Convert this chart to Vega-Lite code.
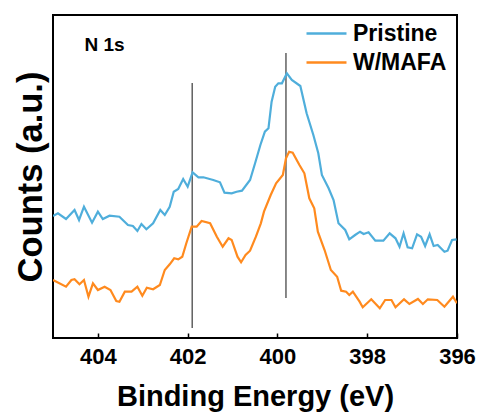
{
  "$schema": "https://vega.github.io/schema/vega-lite/v6.json",
  "width": 404,
  "height": 323,
  "autosize": {"type": "none"},
  "padding": {"left": 53, "top": 15, "right": 22, "bottom": 77},
  "background": "white",
  "config": {
    "font": "Liberation Sans",
    "view": {"stroke": "black", "strokeWidth": 2}
  },
  "datasets": {
    "spectra": [
      {"energy": 405.00, "counts": 122, "sample": "Pristine"},
      {"energy": 404.89, "counts": 124.7, "sample": "Pristine"},
      {"energy": 404.71, "counts": 119, "sample": "Pristine"},
      {"energy": 404.52, "counts": 128, "sample": "Pristine"},
      {"energy": 404.42, "counts": 118, "sample": "Pristine"},
      {"energy": 404.31, "counts": 131.3, "sample": "Pristine"},
      {"energy": 404.13, "counts": 115.3, "sample": "Pristine"},
      {"energy": 404.00, "counts": 126.3, "sample": "Pristine"},
      {"energy": 403.89, "counts": 119, "sample": "Pristine"},
      {"energy": 403.74, "counts": 122.3, "sample": "Pristine"},
      {"energy": 403.52, "counts": 121.3, "sample": "Pristine"},
      {"energy": 403.33, "counts": 113, "sample": "Pristine"},
      {"energy": 403.22, "counts": 112, "sample": "Pristine"},
      {"energy": 403.12, "counts": 107, "sample": "Pristine"},
      {"energy": 403.03, "counts": 114, "sample": "Pristine"},
      {"energy": 402.92, "counts": 108.7, "sample": "Pristine"},
      {"energy": 402.77, "counts": 114.7, "sample": "Pristine"},
      {"energy": 402.61, "counts": 128, "sample": "Pristine"},
      {"energy": 402.51, "counts": 123, "sample": "Pristine"},
      {"energy": 402.40, "counts": 131.3, "sample": "Pristine"},
      {"energy": 402.31, "counts": 146.3, "sample": "Pristine"},
      {"energy": 402.21, "counts": 149, "sample": "Pristine"},
      {"energy": 402.10, "counts": 159, "sample": "Pristine"},
      {"energy": 402.00, "counts": 151.3, "sample": "Pristine"},
      {"energy": 401.89, "counts": 165.7, "sample": "Pristine"},
      {"energy": 401.76, "counts": 160.7, "sample": "Pristine"},
      {"energy": 401.65, "counts": 160.7, "sample": "Pristine"},
      {"energy": 401.43, "counts": 158, "sample": "Pristine"},
      {"energy": 401.28, "counts": 155.7, "sample": "Pristine"},
      {"energy": 401.18, "counts": 145.3, "sample": "Pristine"},
      {"energy": 401.02, "counts": 144.7, "sample": "Pristine"},
      {"energy": 400.91, "counts": 146.3, "sample": "Pristine"},
      {"energy": 400.79, "counts": 147.3, "sample": "Pristine"},
      {"energy": 400.61, "counts": 158, "sample": "Pristine"},
      {"energy": 400.49, "counts": 176, "sample": "Pristine"},
      {"energy": 400.38, "counts": 193, "sample": "Pristine"},
      {"energy": 400.28, "counts": 206.3, "sample": "Pristine"},
      {"energy": 400.20, "counts": 209.7, "sample": "Pristine"},
      {"energy": 400.13, "counts": 236.3, "sample": "Pristine"},
      {"energy": 400.05, "counts": 251.3, "sample": "Pristine"},
      {"energy": 399.98, "counts": 254.7, "sample": "Pristine"},
      {"energy": 399.90, "counts": 254.7, "sample": "Pristine"},
      {"energy": 399.79, "counts": 264.7, "sample": "Pristine"},
      {"energy": 399.68, "counts": 258, "sample": "Pristine"},
      {"energy": 399.49, "counts": 252, "sample": "Pristine"},
      {"energy": 399.35, "counts": 224.7, "sample": "Pristine"},
      {"energy": 399.20, "counts": 203, "sample": "Pristine"},
      {"energy": 399.09, "counts": 184.7, "sample": "Pristine"},
      {"energy": 399.01, "counts": 163, "sample": "Pristine"},
      {"energy": 398.86, "counts": 149.7, "sample": "Pristine"},
      {"energy": 398.75, "counts": 138, "sample": "Pristine"},
      {"energy": 398.64, "counts": 114.7, "sample": "Pristine"},
      {"energy": 398.49, "counts": 108, "sample": "Pristine"},
      {"energy": 398.40, "counts": 98.7, "sample": "Pristine"},
      {"energy": 398.27, "counts": 103, "sample": "Pristine"},
      {"energy": 398.16, "counts": 106.3, "sample": "Pristine"},
      {"energy": 398.08, "counts": 104, "sample": "Pristine"},
      {"energy": 397.97, "counts": 105.7, "sample": "Pristine"},
      {"energy": 397.82, "counts": 97.3, "sample": "Pristine"},
      {"energy": 397.64, "counts": 97.3, "sample": "Pristine"},
      {"energy": 397.50, "counts": 104.7, "sample": "Pristine"},
      {"energy": 397.37, "counts": 99.7, "sample": "Pristine"},
      {"energy": 397.28, "counts": 91.3, "sample": "Pristine"},
      {"energy": 397.19, "counts": 104.7, "sample": "Pristine"},
      {"energy": 397.10, "counts": 90.7, "sample": "Pristine"},
      {"energy": 397.00, "counts": 89.7, "sample": "Pristine"},
      {"energy": 396.89, "counts": 103.7, "sample": "Pristine"},
      {"energy": 396.80, "counts": 101.3, "sample": "Pristine"},
      {"energy": 396.71, "counts": 92, "sample": "Pristine"},
      {"energy": 396.61, "counts": 103.7, "sample": "Pristine"},
      {"energy": 396.52, "counts": 92, "sample": "Pristine"},
      {"energy": 396.43, "counts": 93, "sample": "Pristine"},
      {"energy": 396.28, "counts": 86.3, "sample": "Pristine"},
      {"energy": 396.21, "counts": 87.3, "sample": "Pristine"},
      {"energy": 396.11, "counts": 98, "sample": "Pristine"},
      {"energy": 396.01, "counts": 98.7, "sample": "Pristine"},
      {"energy": 405.00, "counts": 58, "sample": "W/MAFA"},
      {"energy": 404.71, "counts": 51.3, "sample": "W/MAFA"},
      {"energy": 404.59, "counts": 58, "sample": "W/MAFA"},
      {"energy": 404.52, "counts": 58.7, "sample": "W/MAFA"},
      {"energy": 404.41, "counts": 53.7, "sample": "W/MAFA"},
      {"energy": 404.31, "counts": 58, "sample": "W/MAFA"},
      {"energy": 404.21, "counts": 41.3, "sample": "W/MAFA"},
      {"energy": 404.11, "counts": 54.7, "sample": "W/MAFA"},
      {"energy": 404.00, "counts": 48, "sample": "W/MAFA"},
      {"energy": 403.85, "counts": 51.3, "sample": "W/MAFA"},
      {"energy": 403.72, "counts": 48, "sample": "W/MAFA"},
      {"energy": 403.59, "counts": 37, "sample": "W/MAFA"},
      {"energy": 403.52, "counts": 36.3, "sample": "W/MAFA"},
      {"energy": 403.40, "counts": 46.3, "sample": "W/MAFA"},
      {"energy": 403.25, "counts": 46.3, "sample": "W/MAFA"},
      {"energy": 403.12, "counts": 51.3, "sample": "W/MAFA"},
      {"energy": 403.01, "counts": 42.3, "sample": "W/MAFA"},
      {"energy": 402.91, "counts": 50.3, "sample": "W/MAFA"},
      {"energy": 402.77, "counts": 48.7, "sample": "W/MAFA"},
      {"energy": 402.62, "counts": 53, "sample": "W/MAFA"},
      {"energy": 402.51, "counts": 68, "sample": "W/MAFA"},
      {"energy": 402.40, "counts": 73.7, "sample": "W/MAFA"},
      {"energy": 402.30, "counts": 79.7, "sample": "W/MAFA"},
      {"energy": 402.21, "counts": 78.7, "sample": "W/MAFA"},
      {"energy": 402.12, "counts": 81.3, "sample": "W/MAFA"},
      {"energy": 402.03, "counts": 94.7, "sample": "W/MAFA"},
      {"energy": 401.91, "counts": 111.3, "sample": "W/MAFA"},
      {"energy": 401.80, "counts": 111.3, "sample": "W/MAFA"},
      {"energy": 401.69, "counts": 117, "sample": "W/MAFA"},
      {"energy": 401.50, "counts": 114.7, "sample": "W/MAFA"},
      {"energy": 401.35, "counts": 101.3, "sample": "W/MAFA"},
      {"energy": 401.22, "counts": 91.3, "sample": "W/MAFA"},
      {"energy": 401.09, "counts": 99.7, "sample": "W/MAFA"},
      {"energy": 401.02, "counts": 98, "sample": "W/MAFA"},
      {"energy": 400.89, "counts": 81.3, "sample": "W/MAFA"},
      {"energy": 400.81, "counts": 75.7, "sample": "W/MAFA"},
      {"energy": 400.71, "counts": 83, "sample": "W/MAFA"},
      {"energy": 400.61, "counts": 87.3, "sample": "W/MAFA"},
      {"energy": 400.48, "counts": 101.3, "sample": "W/MAFA"},
      {"energy": 400.37, "counts": 114.7, "sample": "W/MAFA"},
      {"energy": 400.30, "counts": 126.3, "sample": "W/MAFA"},
      {"energy": 400.15, "counts": 143, "sample": "W/MAFA"},
      {"energy": 400.03, "counts": 154.7, "sample": "W/MAFA"},
      {"energy": 399.88, "counts": 163, "sample": "W/MAFA"},
      {"energy": 399.81, "counts": 179.7, "sample": "W/MAFA"},
      {"energy": 399.74, "counts": 186.3, "sample": "W/MAFA"},
      {"energy": 399.66, "counts": 185.3, "sample": "W/MAFA"},
      {"energy": 399.51, "counts": 173, "sample": "W/MAFA"},
      {"energy": 399.40, "counts": 164.7, "sample": "W/MAFA"},
      {"energy": 399.29, "counts": 139.7, "sample": "W/MAFA"},
      {"energy": 399.18, "counts": 129.7, "sample": "W/MAFA"},
      {"energy": 399.10, "counts": 106.3, "sample": "W/MAFA"},
      {"energy": 398.95, "counts": 88, "sample": "W/MAFA"},
      {"energy": 398.81, "counts": 68, "sample": "W/MAFA"},
      {"energy": 398.67, "counts": 61.3, "sample": "W/MAFA"},
      {"energy": 398.58, "counts": 47.3, "sample": "W/MAFA"},
      {"energy": 398.47, "counts": 46.3, "sample": "W/MAFA"},
      {"energy": 398.40, "counts": 43, "sample": "W/MAFA"},
      {"energy": 398.32, "counts": 46.3, "sample": "W/MAFA"},
      {"energy": 398.17, "counts": 36.3, "sample": "W/MAFA"},
      {"energy": 398.10, "counts": 30.7, "sample": "W/MAFA"},
      {"energy": 397.91, "counts": 38.7, "sample": "W/MAFA"},
      {"energy": 397.72, "counts": 29.7, "sample": "W/MAFA"},
      {"energy": 397.60, "counts": 38, "sample": "W/MAFA"},
      {"energy": 397.46, "counts": 38, "sample": "W/MAFA"},
      {"energy": 397.37, "counts": 30.7, "sample": "W/MAFA"},
      {"energy": 397.18, "counts": 38.7, "sample": "W/MAFA"},
      {"energy": 397.06, "counts": 34, "sample": "W/MAFA"},
      {"energy": 396.87, "counts": 39, "sample": "W/MAFA"},
      {"energy": 396.76, "counts": 34, "sample": "W/MAFA"},
      {"energy": 396.65, "counts": 38.7, "sample": "W/MAFA"},
      {"energy": 396.44, "counts": 38, "sample": "W/MAFA"},
      {"energy": 396.28, "counts": 31.3, "sample": "W/MAFA"},
      {"energy": 396.09, "counts": 41.3, "sample": "W/MAFA"},
      {"energy": 396.00, "counts": 34.7, "sample": "W/MAFA"}
    ],
    "one": [{}]
  },
  "layer": [
    {
      "data": {"name": "one"},
      "mark": {"type": "rule", "color": "#111111", "strokeWidth": 1},
      "encoding": {
        "x": {"datum": 401.90, "type": "quantitative", "scale": {"domain": [405, 396], "nice": false, "zero": false}},
        "y": {"datum": 255, "type": "quantitative", "scale": {"domain": [0, 323], "nice": false, "zero": false}},
        "y2": {"datum": 10}
      }
    },
    {
      "data": {"name": "one"},
      "mark": {"type": "rule", "color": "#111111", "strokeWidth": 1},
      "encoding": {
        "x": {"datum": 399.81, "type": "quantitative"},
        "y": {"datum": 285, "type": "quantitative"},
        "y2": {"datum": 40}
      }
    },
    {
      "data": {"name": "spectra"},
      "mark": {"type": "line", "strokeWidth": 2.2, "clip": true},
      "encoding": {
        "x": {
          "field": "energy", "type": "quantitative",
          "scale": {"domain": [405, 396], "nice": false, "zero": false},
          "axis": {
            "title": "Binding Energy (eV)",
            "values": [404, 402, 400, 398, 396],
            "format": "d",
            "domain": false,
            "grid": false,
            "ticks": true,
            "tickSize": -5,
            "tickColor": "black",
            "tickWidth": 1.5,
            "labelFontSize": 22,
            "labelFontWeight": "bold",
            "labelColor": "black",
            "labelPadding": 13,
            "labelFlush": false,
            "titleFontSize": 29,
            "titleFontWeight": "bold",
            "titleColor": "black",
            "titlePadding": 15
          }
        },
        "y": {
          "field": "counts", "type": "quantitative",
          "scale": {"domain": [0, 323], "nice": false, "zero": false},
          "axis": {
            "title": "Counts (a.u.)",
            "labels": false,
            "ticks": false,
            "domain": false,
            "grid": false,
            "titleFontSize": 34.5,
            "titleFontWeight": "bold",
            "titleColor": "black",
            "titlePadding": 5
          }
        },
        "color": {
          "field": "sample", "type": "nominal",
          "scale": {"domain": ["Pristine", "W/MAFA"], "range": ["#4FAEDB", "#FF8A1E"]},
          "legend": {
            "title": null,
            "orient": "none",
            "legendX": 257,
            "legendY": 2,
            "symbolType": "M-1.333,0H1.333",
            "symbolSize": 900,
            "symbolStrokeWidth": 2.5,
            "labelFontSize": 23,
            "labelFontWeight": "bold",
            "labelColor": "black",
            "labelOffset": 10,
            "rowPadding": -2,
            "labelLimit": 200
          }
        }
      }
    },
    {
      "data": {"name": "one"},
      "mark": {"type": "text", "align": "left", "baseline": "middle", "fontSize": 19, "fontWeight": "bold", "color": "black"},
      "encoding": {
        "x": {"datum": 404.30, "type": "quantitative"},
        "y": {"datum": 293, "type": "quantitative"},
        "text": {"value": "N 1s"}
      }
    }
  ]
}
